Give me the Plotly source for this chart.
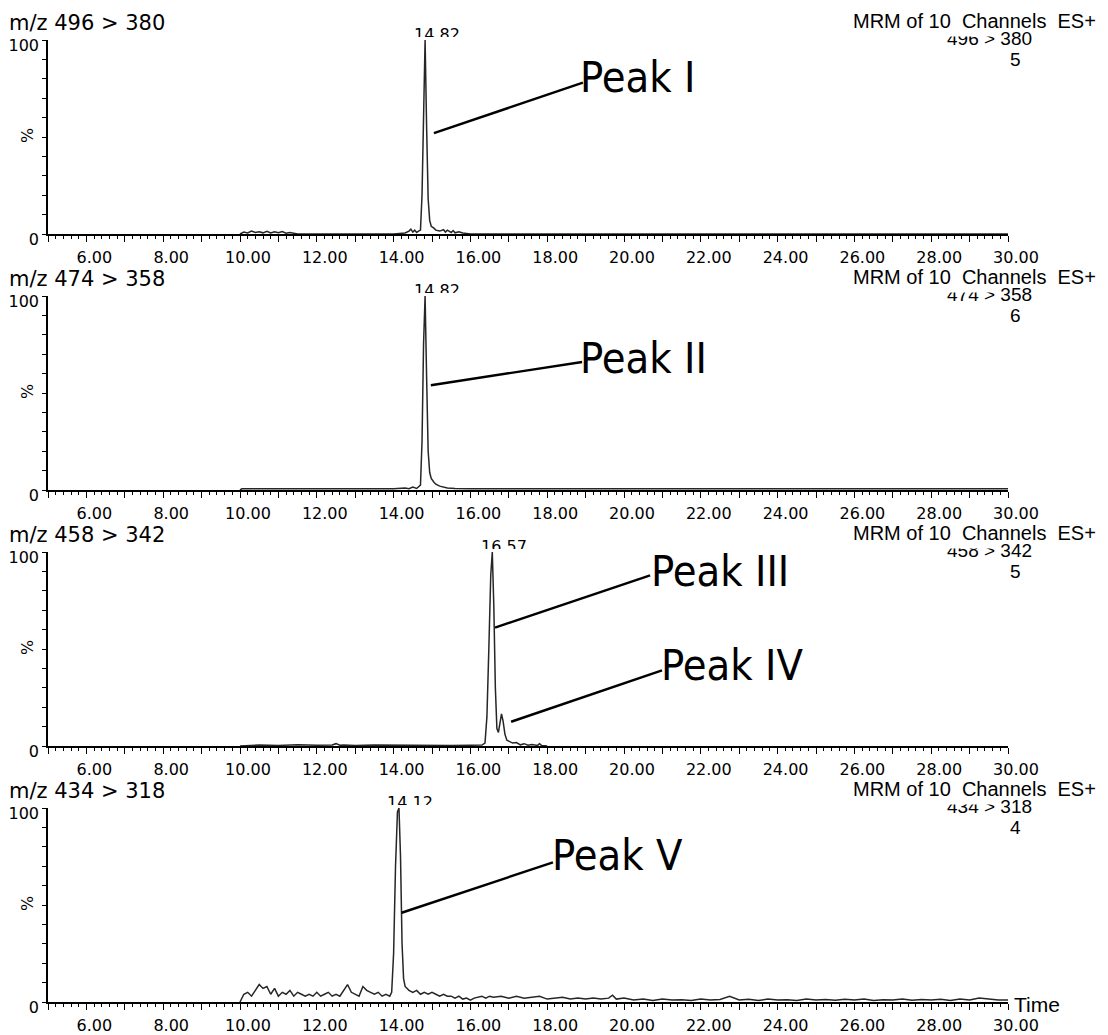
import plotly.graph_objects as go

# ---------------- data ----------------
channels = ["496 > 380", "474 > 358", "458 > 342", "434 > 318"]
header_index = ["5", "6", "5", "4"]
apex_labels = ["14.82", "14.82", "16.57", "14.12"]
apex_times = [14.82, 14.82, 16.57, 14.12]

t1 = [10.0, 10.1, 10.2, 10.3, 10.4, 10.5, 10.6, 10.7, 10.8, 10.9, 11.0, 11.1, 11.2, 11.3,
      11.5, 12.0, 12.5, 13.0, 13.5, 14.0,
      14.3, 14.4, 14.45, 14.5, 14.55, 14.6, 14.65, 14.7, 14.74, 14.78, 14.82, 14.86, 14.9, 14.94, 14.98,
      15.05, 15.1, 15.2, 15.3, 15.35, 15.4, 15.5, 15.55, 15.6, 15.7, 15.8, 16.0,
      17.0, 18.0, 20.0, 22.0, 24.0, 26.0, 28.0, 30.0]
i1 = [0, 1.0, 0.5, 1.5, 0.8, 1.2, 0.6, 1.4, 0.5, 1.2, 0.7, 1.3, 0.4, 0.8,
      0, 0, 0, 0, 0, 0,
      0.5, 1.5, 2.5, 1.0, 2.0, 0.8, 1.5, 2.0, 20, 70, 100, 55, 18, 7, 4,
      3, 2, 1.5, 2.2, 1.0, 2.0, 0.8, 1.8, 0.6, 1.2, 0.5, 0,
      0, 0, 0, 0, 0, 0, 0, 0]

t2 = [10.0, 10.05, 12.0, 14.0,
      14.3, 14.4, 14.5, 14.6, 14.7,
      14.74, 14.78, 14.82, 14.86, 14.9, 14.94, 14.98,
      15.05, 15.1, 15.2, 15.3, 15.4, 15.6, 16.0,
      20.0, 25.0, 30.0]
i2 = [0, 0.6, 0.6, 0.6,
      1.0, 0.7, 1.5, 0.8, 2.5,
      25, 75, 100, 58, 20, 9, 6,
      4, 3, 2, 1.5, 1, 0.8, 0.6,
      0.6, 0.6, 0.6]

t3 = [10.0, 10.5, 11.0, 11.5, 12.0,
      12.4, 12.5, 12.6, 12.7,
      13.0, 13.5, 14.0, 14.5, 15.0, 15.5, 16.0, 16.3,
      16.38, 16.43, 16.48, 16.53, 16.57, 16.61, 16.65, 16.69, 16.73, 16.77, 16.81, 16.85, 16.9, 16.95, 17.0,
      17.1, 17.2, 17.3, 17.4, 17.5, 17.6, 17.75, 17.8, 17.85, 18.0]
i3 = [0, 0.5, 0.3, 0.6, 0.4,
      0.5, 1.2, 0.4, 0.5,
      0.3, 0.5, 0.4, 0.3, 0.5, 0.3, 0.4, 0.5,
      1.5, 15, 50, 88, 100, 72, 30, 9, 7, 13, 16.5, 13, 6, 3, 2.5,
      1.5, 1.8, 0.6, 1.2, 0.4, 0.8, 0.3, 1.2, 0.3, 0]

t4 = [10.0, 10.1, 10.2, 10.3, 10.4, 10.5, 10.6, 10.7, 10.8, 10.9,
      11.0, 11.1, 11.2, 11.3, 11.4, 11.5, 11.6, 11.7, 11.8, 11.9,
      12.0, 12.1, 12.2, 12.3, 12.4, 12.5, 12.6, 12.7, 12.8, 12.9,
      13.0, 13.1, 13.2, 13.3, 13.4, 13.5, 13.6, 13.7, 13.8, 13.9,
      13.95, 14.0, 14.05, 14.1, 14.14, 14.18, 14.22, 14.26, 14.3,
      14.4, 14.5, 14.6, 14.7, 14.8, 14.9, 15.0, 15.1, 15.2, 15.3, 15.4, 15.5,
      15.6, 15.7, 15.8, 15.9, 16.0, 16.1, 16.2, 16.3, 16.4, 16.5, 16.6,
      16.8, 17.0, 17.2, 17.4, 17.6, 17.8, 18.0, 18.2, 18.4, 18.6, 18.8, 19.0, 19.2, 19.4, 19.6,
      19.7, 19.8,
      20.0, 20.25, 20.5, 20.75, 21.0, 21.25, 21.5, 21.75, 22.0, 22.25, 22.5, 22.75,
      23.0, 23.25, 23.5, 23.75, 24.0, 24.25, 24.5, 24.75, 25.0, 25.25, 25.5, 25.75,
      26.0, 26.25, 26.5, 26.75, 27.0, 27.25, 27.5, 27.75, 28.0, 28.25, 28.5, 28.75,
      29.0, 29.25, 29.5, 29.75, 30.0]
i4 = [0, 4, 5, 3, 6, 9, 7, 8, 4, 7,
      3, 5, 4, 6, 3, 5, 4, 3, 4, 3,
      5, 3, 4, 5, 3, 4, 3, 6, 9, 5,
      4, 3, 8, 6, 5, 4, 5, 3, 4, 3,
      5, 25, 70, 98, 100, 75, 30, 12, 8,
      6, 5, 6, 4, 5, 4, 5, 4, 3, 4, 3, 3,
      2, 3, 1.5, 2, 1, 2, 2.5, 3, 2, 3, 2.5,
      3, 2, 3, 2, 2.5, 3, 1.5, 2, 2.5, 1.5, 2, 1.5, 2, 1.5, 2,
      3.5, 1.5,
      2, 1, 1.5, 0.8, 1.6, 1, 1.2, 0.8, 1.5, 1, 1.3, 3,
      1, 1.4, 0.8, 1.5, 1, 1.2, 0.8, 1.6, 1, 1.3, 0.9, 1.4,
      1, 1.5, 0.8, 1.2, 1, 1.6, 0.9, 1.3, 1, 1.4, 0.8, 1.5,
      1, 2, 1.5, 1, 1]

times = [t1, t2, t3, t4]
intens = [i1, i2, i3, i4]

# peak call-outs: (name, panel, line start (t, %), line end (t, %), text pos (t, %))
peak_names = ["Peak I", "Peak II", "Peak III", "Peak IV", "Peak V"]
peak_panel = [0, 1, 2, 2, 3]
line_start = [(15.05, 52), (14.97, 54), (16.64, 61), (17.06, 12.5), (14.21, 46)]
line_end = [(18.93, 78), (18.91, 66), (20.68, 88), (20.99, 39), (18.15, 72)]
text_pos = [(18.80, 81), (18.80, 68), (20.64, 90), (20.92, 42), (18.07, 76)]

x_major = list(range(5, 31))
x_text = [f"{v:.2f}" if (v % 2 == 0 and v > 5) else "" for v in x_major]
y_vals = list(range(0, 101, 10))
y_text = ["0"] + [""] * 9 + ["100"]

# ---------------- layout geometry (pixels) ----------------
W, H = 1108, 1035
ML, MR, MT, MB = 48, 100, 40, 33
PW = W - ML - MR
PHT = H - MT - MB
PANEL_H, STEP = 194, 256


def px(xp):
    return (xp - ML) / PW


def py(yp):
    return (H - MB - yp) / PHT


FT = "DejaVu Sans, Liberation Sans, Arial"
FA = "Liberation Sans, Arial"
FN = "Liberation Sans Narrow, Arial Narrow, DejaVu Sans Condensed, Roboto Condensed, Liberation Sans"
INK = "#000000"

fig = go.Figure()
for k in range(4):
    sfx = "" if k == 0 else str(k + 1)
    fig.add_trace(go.Scatter(
        x=times[k], y=intens[k], mode="lines",
        line=dict(color="#262626", width=1.5),
        xaxis="x" + sfx, yaxis="y" + sfx, showlegend=False, hoverinfo="skip"))

layout = dict(
    width=W, height=H, margin=dict(l=ML, r=MR, t=MT, b=MB, pad=0, autoexpand=False),
    paper_bgcolor="white", plot_bgcolor="white", showlegend=False,
)
annotations = []
shapes = []
for k in range(4):
    sfx = "" if k == 0 else str(k + 1)
    top = MT + STEP * k
    bot = top + PANEL_H
    layout["xaxis" + sfx] = dict(
        domain=[0, 1], range=[5, 30], anchor="y" + sfx, automargin=False,
        showline=True, linecolor=INK, linewidth=1.6, mirror=False,
        showgrid=False, zeroline=False,
        tickmode="array", tickvals=x_major, ticktext=x_text,
        ticks="outside", ticklen=6, tickwidth=1.3, tickcolor=INK,
        ticklabelshift=8, ticklabelstandoff=2,
        minor=dict(dtick=0.2, tick0=5, ticks="outside", ticklen=3, tickwidth=1, tickcolor=INK, showgrid=False),
        tickfont=dict(family=FT, size=16, color=INK),
        fixedrange=True,
    )
    layout["yaxis" + sfx] = dict(
        domain=[py(bot), py(top)], range=[0, 100], anchor="x" + sfx, automargin=False,
        showline=True, linecolor=INK, linewidth=1.6,
        showgrid=False, zeroline=False,
        tickmode="array", tickvals=y_vals, ticktext=y_text,
        ticks="outside", ticklen=4, tickwidth=1.2, tickcolor=INK,
        ticklabelshift=5,
        tickfont=dict(family=FT, size=16, color=INK),
        fixedrange=True,
    )
    # left channel title
    annotations.append(dict(text="m/z " + channels[k], x=px(7), y=py(top - 17.5), xref="paper", yref="paper",
                            xanchor="left", yanchor="middle", showarrow=False,
                            font=dict(family=FT, size=21, color=INK)))
    # "%" axis label
    annotations.append(dict(text="%", x=px(27), y=py(top + 96), xref="paper", yref="paper",
                            xanchor="center", yanchor="middle", showarrow=False, textangle=-90,
                            font=dict(family=FT, size=16, color=INK)))
    # right header: channel line (partly hidden), cover, then MRM line
    annotations.append(dict(text=channels[k], x=px(1034), y=py(top - 1.5), xref="paper", yref="paper",
                            xanchor="right", yanchor="middle", showarrow=False,
                            font=dict(family=FA, size=19, color=INK)))
    annotations.append(dict(text=" ", x=px(928), y=py(top - 3), xref="paper", yref="paper",
                            xanchor="left", yanchor="bottom", showarrow=False, width=70, height=12,
                            bgcolor="white", borderpad=0, font=dict(size=4)))
    annotations.append(dict(text="MRM of 10\u00a0 Channels\u00a0 ES+", x=px(1098), y=py(top - 19.5),
                            xref="paper", yref="paper", xanchor="right", yanchor="middle", showarrow=False,
                            font=dict(family=FA, size=20, color=INK)))
    annotations.append(dict(text=header_index[k], x=px(1015), y=py(top + 19), xref="paper", yref="paper",
                            xanchor="center", yanchor="middle", showarrow=False,
                            font=dict(family=FA, size=19, color=INK)))
    # apex retention-time label, bottom clipped by the frame
    annotations.append(dict(text=apex_labels[k], x=apex_times[k], y=100, xref="x" + sfx, yref="y" + sfx,
                            xanchor="center", yanchor="bottom", xshift=12, yshift=2.5,
                            height=12, valign="top", borderpad=0, showarrow=False,
                            font=dict(family=FT, size=16, color=INK)))

# Time label on the last axis
annotations.append(dict(text="Time", x=px(1012), y=py(1004), xref="paper", yref="paper",
                        xanchor="left", yanchor="middle", showarrow=False,
                        font=dict(family=FA, size=21, color=INK)))

for j, name in enumerate(peak_names):
    k = peak_panel[j]
    sfx = "" if k == 0 else str(k + 1)
    shapes.append(dict(type="line", xref="x" + sfx, yref="y" + sfx,
                       x0=line_start[j][0], y0=line_start[j][1], x1=line_end[j][0], y1=line_end[j][1],
                       line=dict(color=INK, width=2.4), layer="above"))
    annotations.append(dict(text=name, x=text_pos[j][0], y=text_pos[j][1], xref="x" + sfx, yref="y" + sfx,
                            xanchor="left", yanchor="middle", showarrow=False,
                            font=dict(family=FN, size=43, color=INK)))

layout["annotations"] = annotations
layout["shapes"] = shapes
fig.update_layout(**layout)
fig.write_html("out.html")
